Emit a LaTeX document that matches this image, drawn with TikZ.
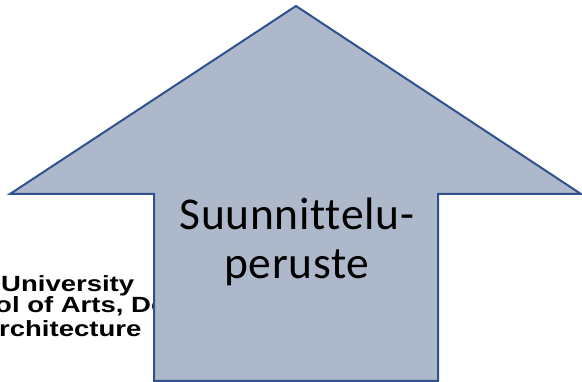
\documentclass[tikz,border=0pt]{standalone}
\usepackage{fontspec}
\setmainfont{Carlito}[Ligatures=NoCommon,LetterSpace=1.5]
\newfontfamily\logofont[FakeStretch=1.25]{Liberation Sans}

\definecolor{arrowfill}{HTML}{ADB9CA}
\definecolor{arrowline}{HTML}{2F528F}

\tikzset{
	logotext/.style={font=\logofont\bfseries\fontsize{22}{22}\selectfont, anchor=base west, inner sep=0pt},
	uparrow/.style={fill=arrowfill, draw=arrowline, line width=2pt, line join=miter},
	caption/.style={font=\fontsize{45.5}{49}\selectfont, align=center, inner sep=0pt}
}

\begin{document}
\begin{tikzpicture}[x=1pt,y=-1pt]
	\useasboundingbox (0,0) rectangle (582,382);

	% logo lines, half hidden behind the arrow
	\node[logotext] (univ) at (1,291.5) {University};
	\node[logotext] (school) at (-5,313) {ol of Arts, De};
	\node[logotext] (archi) at (-1,336.5) {rchitecture};

	% the big up arrow
	\path[uparrow] (154,381) -- (154,194) -- (10,194) -- (296,6) -- (581,194) -- (438,194) -- (438,381) -- cycle;

	\node[caption] (basis) at (297,242) {Suunnittelu-\\peruste};
\end{tikzpicture}
\end{document}
